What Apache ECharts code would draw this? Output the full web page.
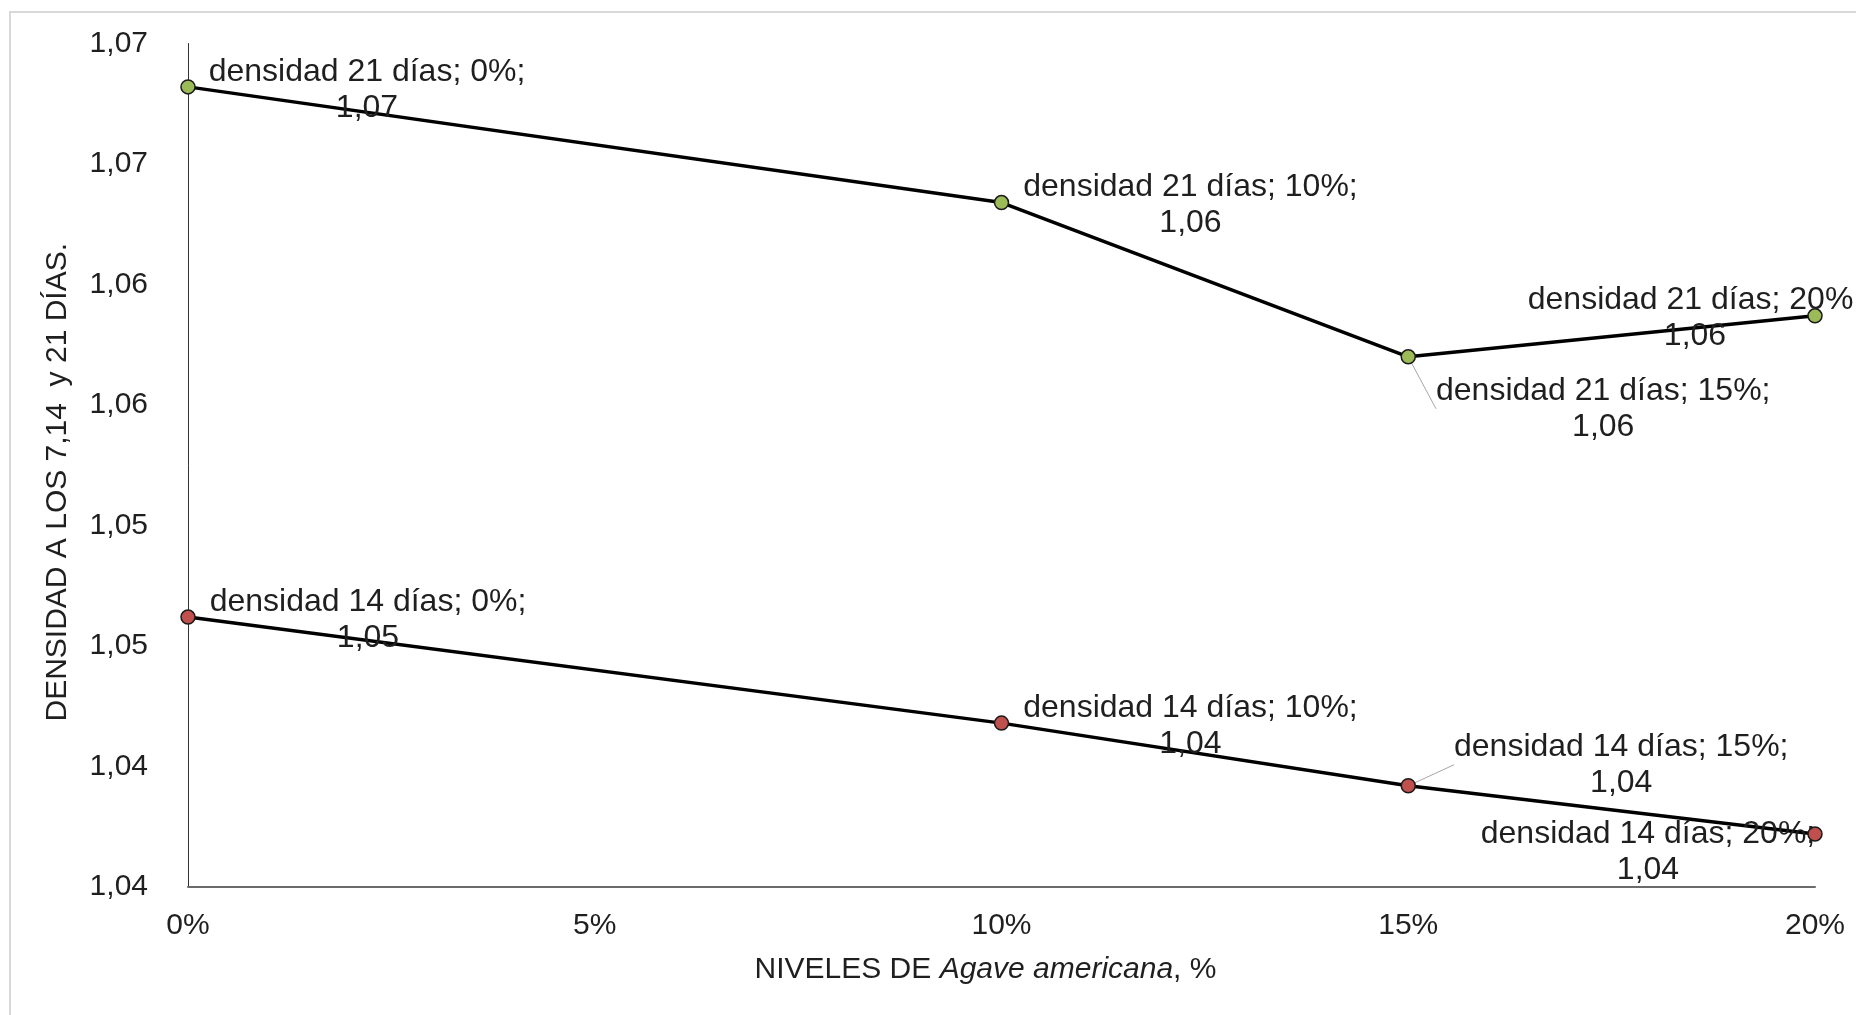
<!DOCTYPE html>
<html>
<head>
<meta charset="utf-8">
<script src="https://cdn.jsdelivr.net/npm/echarts@6/dist/echarts.min.js"></script>
<style>
  html, body { margin: 0; padding: 0; background: #fff; }
  #chart { width: 1856px; height: 1015px; }
</style>
</head>
<body>
<div id="chart"></div>
<script>
// Niveles de Agave americana (%) y densidad medida a los 14 y 21 días
const niveles = [0, 10, 15, 20];
const densidad14 = [1.0462, 1.0418, 1.0392, 1.0372];
const densidad21 = [1.0682, 1.0634, 1.0570, 1.0587];
const serie14 = 'densidad 14 días';
const serie21 = 'densidad 21 días';

// Escalas de los ejes
const xTicks = [0, 5, 10, 15, 20];
const yMin = 1.035, yMax = 1.07, yStep = 0.005;

// Desplazamiento de cada etiqueta respecto a su punto
const offsets21 = [[179, 3], [189, 3], [195, 52], [-120, 2]];
const offsets14 = [[180, 3], [189, 3], [213, -21], [-167, 18]];
const guia21 = [false, false, true, false];
const guia14 = [false, false, true, false];

const FONT = "'Liberation Sans', Arial, sans-serif";
const TEXT = '#1f1f1f';

const coma = v => (v + 1e-7).toFixed(2).replace('.', ',');

function puntos(vals, offsets, guia) {
  return niveles.map((x, i) => ({
    value: [x, vals[i]],
    label: { offset: offsets[i] },
    labelLine: { show: guia[i], lineStyle: { color: '#a6a6a6', width: 1 } }
  }));
}

function serie(nombre, vals, offsets, guia, color) {
  return {
    name: nombre,
    type: 'line',
    data: puntos(vals, offsets, guia),
    symbol: 'circle',
    symbolSize: 14,
    lineStyle: { color: '#000', width: 3.5 },
    itemStyle: { color: color, borderColor: '#1a1a1a', borderWidth: 1.5 },
    clip: false,
    label: {
      show: true,
      position: 'inside',
      align: 'center',
      verticalAlign: 'middle',
      fontFamily: FONT,
      fontSize: 32,
      lineHeight: 36,
      color: TEXT,
      formatter: p => p.seriesName + '; ' + p.value[0] + '%;\n' + coma(p.value[1])
    },
    labelLine: { show: false, lineStyle: { color: '#a6a6a6', width: 1 } },
    emphasis: { disabled: true }
  };
}

const chart = echarts.init(document.getElementById('chart'), null, { renderer: 'canvas' });
chart.setOption({
  animation: false,
  backgroundColor: '#fff',
  graphic: [{
    type: 'rect',
    shape: { x: 10, y: 12, width: 2000, height: 2000 },
    style: { fill: 'none', stroke: '#d9d9d9', lineWidth: 2 },
    silent: true
  }],
  grid: { left: 188, right: 41, top: 43.5, bottom: 128, containLabel: false },
  xAxis: {
    type: 'value',
    min: xTicks[0],
    max: xTicks[xTicks.length - 1],
    interval: xTicks[1] - xTicks[0],
    axisLine: { show: true, onZero: false, lineStyle: { color: '#6b6b6b', width: 2 } },
    axisTick: { show: false },
    splitLine: { show: false },
    axisLabel: { fontFamily: FONT, fontSize: 30, color: TEXT, margin: 24, formatter: v => v + '%' },
    name: '{n|NIVELES DE }{i|Agave americana}{n|, %}',
    nameLocation: 'middle',
    nameGap: 68,
    nameTextStyle: {
      padding: [0, 32, 0, 0],
      rich: {
        n: { fontFamily: FONT, fontSize: 30, color: TEXT },
        i: { fontFamily: FONT, fontSize: 30, color: TEXT, fontStyle: 'italic' }
      }
    }
  },
  yAxis: {
    type: 'value',
    min: yMin,
    max: yMax,
    interval: yStep,
    axisLine: { show: true, onZero: false, lineStyle: { color: '#333', width: 1 } },
    axisTick: { show: false },
    splitLine: { show: false },
    axisLabel: { fontFamily: FONT, fontSize: 30, color: TEXT, margin: 40, formatter: v => coma(v) },
    name: 'DENSIDAD A LOS 7,14  y 21 DÍAS.',
    nameLocation: 'middle',
    nameGap: 115,
    nameTextStyle: { fontFamily: FONT, fontSize: 30, color: TEXT, padding: [0, 34, 0, 0] }
  },
  series: [
    serie(serie21, densidad21, offsets21, guia21, '#9bbb59'),
    serie(serie14, densidad14, offsets14, guia14, '#c0504d')
  ]
});
</script>
</body>
</html>
